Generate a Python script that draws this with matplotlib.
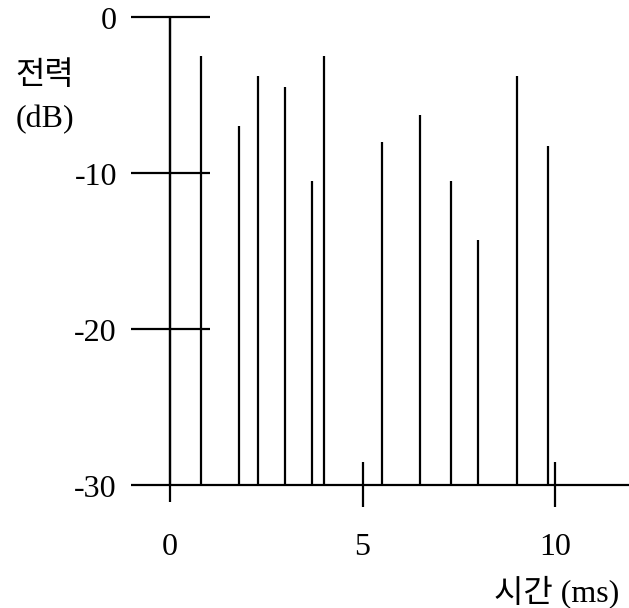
import matplotlib
matplotlib.use("Agg")
import matplotlib.pyplot as plt

# power delay profile: delay (ms) and relative power (dB)
delays = [0.0, 0.8, 1.8, 2.3, 3.0, 3.7, 4.0, 5.5, 6.5, 7.3, 8.0, 9.0, 9.8]
power_db = [0, -2.5, -7.0, -3.75, -4.5, -10.5, -2.5, -8.0, -6.25, -10.5, -14.25, -3.75, -8.25]
y_ticks = [0, -10, -20, -30]
y_tick_labels = ["0", "-10", "-20", "-30"]
x_ticks = [0, 5, 10]
x_tick_labels = ["0", "5", "10"]

plt.rcParams["font.family"] = ["Liberation Serif", "Noto Sans CJK KR"]
LW = 1.6
FS = 23

fig = plt.figure(figsize=(6.29, 6.08), dpi=100)
ax = fig.add_axes([0, 0, 1, 1])
ax.set_xlim(-4.401, 11.911)
ax.set_ylim(-37.87, 1.109)
ax.axis("off")

floor = min(y_ticks)
# stems
ax.vlines(delays, floor, power_db, color="black", lw=LW)
# axes drawn by hand (figure style)
ax.vlines(0, -31.05, 0, color="black", lw=LW)
ax.hlines(floor, -1.0, 11.95, color="black", lw=LW)
ax.hlines(y_ticks[:-1], -1.0, 1.04, color="black", lw=LW)
ax.vlines(x_ticks[1:], -28.5, -31.4, color="black", lw=LW)

for v, lab in zip(y_ticks, y_tick_labels):
    ax.text(-1.37, v - 0.3, lab, ha="right", va="center", fontsize=FS)
for v, lab in zip(x_ticks, x_tick_labels):
    ax.text(v, -34.0, lab, ha="center", va="center", fontsize=FS)

ax.text(-4.0, -3.8, "전력", ha="left", va="center", fontsize=FS,
        fontweight="light")
ax.text(-4.0, -6.55, "(dB)", ha="left", va="center", fontsize=FS)
ax.text(11.67, -36.8, "시간 (ms)", ha="right", va="center", fontsize=FS,
        fontweight="light")

fig.savefig("out.png", dpi=100)
